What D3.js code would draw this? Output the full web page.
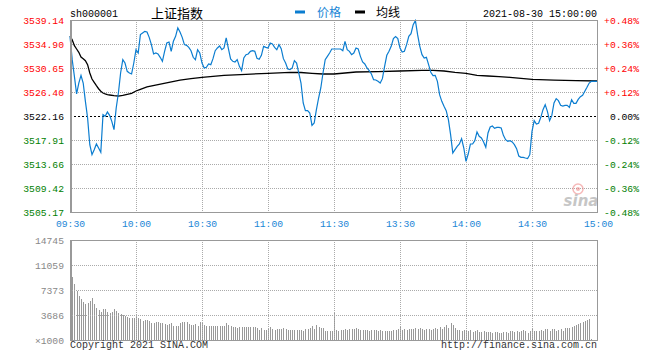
<!DOCTYPE html>
<html><head><meta charset="utf-8">
<script src="https://cdn.jsdelivr.net/npm/d3@7"></script>
<style>body{margin:0;background:#fff}svg{display:block}</style>
</head><body><svg id="c" width="660" height="360"></svg>
<script>
const code = "sh000001", indexName = "上证指数", dateText = "2021-08-30 15:00:00";
const legendNames = ["价格", "均线"];
const prevClose = 3522.16;
const timeLabels = ["09:30","10:00","10:30","11:00","11:30","13:30","14:00","14:30","15:00"];
const timeTickIdx = [0,30,60,90,120,150,180,210,240];
const priceTicks = [3539.14,3534.90,3530.65,3526.40,3522.16,3517.91,3513.66,3509.42,3505.17];
const pctTicks = [0.48,0.36,0.24,0.12,0,-0.12,-0.24,-0.36,-0.48];
const volTicks = [14745,11059,7373,3686,0];
const copyrightText = "Copyright 2021 SINA.COM", urlText = "http://finance.sina.com.cn";

// minute-by-minute price (241 points, 09:30..11:30, 13:01..15:00)
const price = [
3536.25,3532.12,3529.17,3526.05,3527.99,3529.35,3527.99,3524.75,3521.80,3517.08,
3515.31,3516.20,3517.20,3516.49,3515.73,3522.39,3522.10,3522.86,3522.27,3521.21,
3519.74,3523.57,3526.22,3529.76,3532.12,3531.53,3530.06,3529.76,3529.59,3531.53,
3533.89,3533.30,3536.55,3536.84,3537.14,3537.02,3536.07,3534.78,3533.13,3533.30,
3533.13,3532.54,3531.83,3533.60,3535.07,3535.25,3533.60,3535.37,3536.25,3537.73,
3537.02,3536.07,3534.78,3534.66,3534.30,3533.71,3532.54,3532.12,3533.89,3533.30,
3531.53,3530.65,3530.77,3531.36,3531.24,3532.30,3533.71,3534.19,3534.54,3533.89,
3534.19,3535.96,3534.07,3532.24,3531.83,3531.71,3532.12,3530.94,3530.18,3532.42,
3533.01,3533.13,3533.60,3533.71,3533.60,3532.36,3532.18,3532.89,3534.48,3534.30,
3534.19,3535.07,3534.89,3534.30,3533.89,3534.78,3534.07,3532.30,3531.53,3530.47,
3530.35,3530.65,3531.95,3531.53,3529.76,3527.99,3524.46,3523.10,3523.10,3522.69,
3520.50,3520.92,3523.28,3525.34,3527.11,3529.76,3532.12,3532.71,3533.30,3534.01,
3534.01,3534.01,3534.01,3534.01,3533.71,3535.37,3533.89,3533.60,3533.01,3533.30,
3534.19,3534.01,3532.71,3531.71,3531.36,3530.65,3530.18,3529.59,3528.58,3528.52,
3528.29,3527.99,3528.76,3530.94,3532.89,3533.60,3534.48,3535.84,3536.19,3535.84,
3534.19,3533.48,3533.60,3534.78,3536.25,3536.72,3538.31,3539.02,3536.55,3534.48,
3533.01,3532.42,3532.54,3531.24,3529.88,3529.29,3529.35,3528.29,3525.93,3524.75,
3523.87,3523.10,3521.51,3518.85,3515.61,3516.20,3516.79,3517.20,3518.15,3516.49,
3514.13,3515.43,3517.20,3517.20,3517.79,3519.32,3518.56,3518.26,3517.56,3516.61,
3519.15,3520.21,3520.39,3519.97,3520.15,3520.15,3520.03,3518.73,3517.97,3517.67,
3517.79,3517.56,3517.08,3516.38,3515.08,3514.84,3514.84,3514.72,3514.61,3515.31,
3519.44,3521.33,3520.74,3520.86,3521.92,3523.28,3524.16,3522.98,3521.33,3522.21,
3524.46,3525.22,3524.87,3524.04,3523.92,3524.04,3524.04,3523.69,3525.05,3524.40,
3524.40,3525.10,3525.58,3525.81,3526.52,3527.23,3527.99,3528.29,3528.29,3528.29,
3528.29];

// average-price line, sampled at minute indices
const avgIdx = [0,1,2,3,4,5,6,7,8,9,10,11,12,13,14,15,16,17,18,20,22,24,26,28,30,32,35,40,45,50,55,60,70,80,90,100,105,110,115,120,130,140,150,160,165,170,175,180,185,190,195,200,205,210,220,230,240];
const avgVal = [3536.31,3535.65,3534.59,3534.01,3533.43,3532.59,3532.29,3531.94,3531.23,3529.76,3528.70,3528.12,3527.52,3526.98,3526.53,3526.22,3526.05,3525.92,3525.87,3525.75,3525.69,3525.82,3526.00,3526.17,3526.58,3526.88,3527.29,3527.69,3528.12,3528.52,3528.75,3529.00,3529.35,3529.53,3529.71,3529.89,3529.85,3529.71,3529.59,3529.59,3529.94,3529.99,3530.12,3530.24,3530.21,3530.12,3529.89,3529.71,3529.35,3529.23,3529.11,3529.00,3528.82,3528.65,3528.52,3528.40,3528.35];

// volume per minute (x1000)
const volume = [
9500,9290,8260,7270,6540,6100,5650,5360,5460,5700,6190,5310,4770,4470,4180,4570,4570,4130,4030,4130,4620,4280,4030,3880,3740,3490,3440,3200,3240,3290,3790,
3240,3050,2850,2900,2950,2750,2560,2510,2600,2610,2460,2460,2360,2260,2360,2510,2060,2060,2060,2510,2600,2650,2650,2360,2260,2260,2360,2060,2650,2600,
2260,2020,2020,2020,2020,2110,2060,2060,2110,2020,2500,2260,2020,1920,1970,1820,1870,1970,1920,1920,1920,1920,1920,1920,1770,1520,1770,1470,1470,1770,
1870,1570,1520,1620,1620,1620,1770,1620,1520,1520,1520,1470,1470,1470,1470,1380,1620,1670,1770,2060,1670,2260,1870,1770,1770,1380,1380,1380,1280,4080,
1474,1376,1474,1474,1622,1523,1671,1622,1671,1769,1622,1474,1474,1474,1474,1376,1474,1474,1474,1376,1474,1376,1278,1376,1376,1376,1474,1523,1622,1966,
1474,1622,1474,1622,1622,1671,1769,1622,1769,1573,1474,1622,1671,1523,1622,1769,1622,1916,1622,1867,2163,1769,2457,2260,1769,1474,1474,1278,1474,1474,
1278,1474,1179,1278,1474,1179,1179,1376,1179,1179,1179,1081,1179,1179,1032,983,1179,1179,1081,1327,1327,1229,1327,1179,1327,1425,1376,1081,1278,1769,
1376,1376,1376,1474,1376,1573,1671,1376,1573,1573,1278,1474,1622,1376,1818,1818,1720,1960,2113,2260,2359,2507,2605,2752,2949,3097,150,0,0,0];

const MONO = "'Liberation Mono','DejaVu Sans Mono',monospace";
const CJK = "'Noto Sans CJK SC','Noto Sans',sans-serif";
const BLUE = "#0b7dd0", LBLUE = "#1a86d6", RED = "#ff0000", GREEN = "#008000", GRID = "#aaaaaa", BORDER = "#999999";
const FS = 9.7;

const svg = d3.select("#c");
const L = 70, R = 598, T = 20, B = 212, VT = 240, VB = 340;
const x = d3.scaleLinear().domain([0, 240]).range([L, R]);
const y = d3.scaleLinear().domain([priceTicks[priceTicks.length-1], priceTicks[0]]).range([B, T]);
const yp = d3.scaleLinear().domain([-0.48, 0.48]).range([B, T]);
const yv = d3.scaleLinear().domain([0, volTicks[0]]).range([VB, VT]);

// ---- grids ----
const grid = svg.append("g").attr("shape-rendering","crispEdges");
priceTicks.slice(1,-1).forEach(t => {
  const isPrev = Math.abs(t - prevClose) < 0.001;
  grid.append("line").attr("x1",L).attr("x2",R).attr("y1",Math.round(y(t))+0.5).attr("y2",Math.round(y(t))+0.5)
    .attr("stroke", isPrev ? "#000" : GRID).attr("stroke-dasharray", isPrev ? "2,2" : "1,1");
});
timeTickIdx.slice(1,-1).forEach(t => {
  grid.append("line").attr("x1",Math.round(x(t))+0.5).attr("x2",Math.round(x(t))+0.5).attr("y1",T).attr("y2",B)
    .attr("stroke",GRID).attr("stroke-dasharray","1,1");
});

// ---- volume bars ----
svg.append("g").attr("shape-rendering","crispEdges").selectAll("rect").data(volume).join("rect")
  .attr("x",(d,i)=>Math.round(x(i))).attr("width",1)
  .attr("y",d=>yv(d)).attr("height",d=>yv(0)-yv(d)).attr("fill","#999");

const vgrid = svg.append("g").attr("shape-rendering","crispEdges");
volTicks.slice(1,-1).forEach(t => {
  vgrid.append("line").attr("x1",L).attr("x2",R).attr("y1",Math.round(yv(t))+0.5).attr("y2",Math.round(yv(t))+0.5)
    .attr("stroke",GRID).attr("stroke-dasharray","1,1");
});
timeTickIdx.slice(1,-1).forEach(t => {
  vgrid.append("line").attr("x1",Math.round(x(t))+0.5).attr("x2",Math.round(x(t))+0.5).attr("y1",VT).attr("y2",VB)
    .attr("stroke",GRID).attr("stroke-dasharray","1,1");
});

// ---- sina watermark ----
const wm = svg.append("g").attr("opacity",0.55);
wm.append("circle").attr("cx",578).attr("cy",189).attr("r",5).attr("fill","none").attr("stroke","#f08080").attr("stroke-width",1.5);
wm.append("circle").attr("cx",578).attr("cy",189).attr("r",2).attr("fill","#f08080");
wm.append("text").attr("x",581).attr("y",206).attr("text-anchor","middle")
  .style("font-family","'DejaVu Sans',sans-serif").style("font-size","15px").style("font-weight","bold").style("font-style","italic")
  .attr("fill","#999").text("sina");

// ---- lines ----
svg.append("path").datum(avgVal)
  .attr("d", d3.line().x((d,i)=>x(avgIdx[i])).y(d=>y(d)))
  .attr("fill","none").attr("stroke","#000").attr("stroke-width",1.3);
svg.append("path").datum(price)
  .attr("d", d3.line().x((d,i)=>x(i)).y(d=>y(d)))
  .attr("fill","none").attr("stroke",BLUE).attr("stroke-width",1.2);

// ---- borders ----
const bd = svg.append("g").attr("fill","none").attr("stroke",BORDER).attr("shape-rendering","crispEdges");
bd.append("rect").attr("x",L+0.5).attr("y",T+0.5).attr("width",R-L-1).attr("height",B-T);
bd.append("rect").attr("x",L+0.5).attr("y",VT+0.5).attr("width",R-L-1).attr("height",VB-VT);
bd.append("line").attr("x1",L+1.5).attr("x2",L+1.5).attr("y1",T).attr("y2",B+1);
bd.append("line").attr("x1",L+1.5).attr("x2",L+1.5).attr("y1",VT).attr("y2",VB+1);

// ---- axes ----
function styleAxis(g){ g.select(".domain").remove(); g.selectAll("text").style("font-family",MONO).style("font-size",FS+"px"); }
const gy = svg.append("g").attr("transform",`translate(${L},0)`)
  .call(d3.axisLeft(y).tickValues(priceTicks).tickSize(0).tickPadding(6).tickFormat(d3.format(".2f")));
styleAxis(gy);
gy.selectAll("text").attr("fill", d => d > prevClose + 0.001 ? RED : (d < prevClose - 0.001 ? GREEN : "#000"));

const gp = svg.append("g").attr("transform",`translate(${R},0)`)
  .call(d3.axisRight(yp).tickValues(pctTicks).tickSize(0).tickPadding(41)
    .tickFormat(d => (d > 0 ? "+" : "") + d.toFixed(2) + "%"));
styleAxis(gp);
gp.selectAll("text").attr("text-anchor","end").attr("fill", d => d > 0 ? RED : (d < 0 ? GREEN : "#000"));

const gx = svg.append("g").attr("transform",`translate(0,${B})`)
  .call(d3.axisBottom(x).tickValues(timeTickIdx).tickSize(0).tickPadding(8).tickFormat((d,i)=>timeLabels[i]));
styleAxis(gx);
gx.selectAll("text").attr("fill",LBLUE);

const gv = svg.append("g").attr("transform",`translate(${L},0)`)
  .call(d3.axisLeft(yv).tickValues(volTicks).tickSize(0).tickPadding(6).tickFormat(d => d === 0 ? "×1000" : d));
styleAxis(gv);
gv.selectAll("text").attr("fill","#888");

// ---- header ----
const txt = (xx,yy,s,opts={}) => svg.append("text").attr("x",xx).attr("y",yy).text(s)
  .style("font-family",opts.font||MONO).style("font-size",(opts.size||FS)+"px")
  .attr("fill",opts.fill||"#000").attr("text-anchor",opts.anchor||"start");
txt(70,16.5,code,{size:10});
txt(151,17.5,indexName,{font:CJK,size:13});
svg.append("rect").attr("x",295).attr("y",10.5).attr("width",10).attr("height",3).attr("fill",BLUE);
txt(317,16.5,legendNames[0],{font:CJK,size:12,fill:LBLUE});
svg.append("rect").attr("x",355).attr("y",10.5).attr("width",10).attr("height",3).attr("fill","#000");
txt(376,16.5,legendNames[1],{font:CJK,size:12});
txt(597,16.5,dateText,{size:10,anchor:"end"});

// ---- footer ----
txt(70,347.5,copyrightText,{size:10,fill:"#333"});
txt(597,347.5,urlText,{size:10,fill:"#333",anchor:"end"});
</script></body></html>
